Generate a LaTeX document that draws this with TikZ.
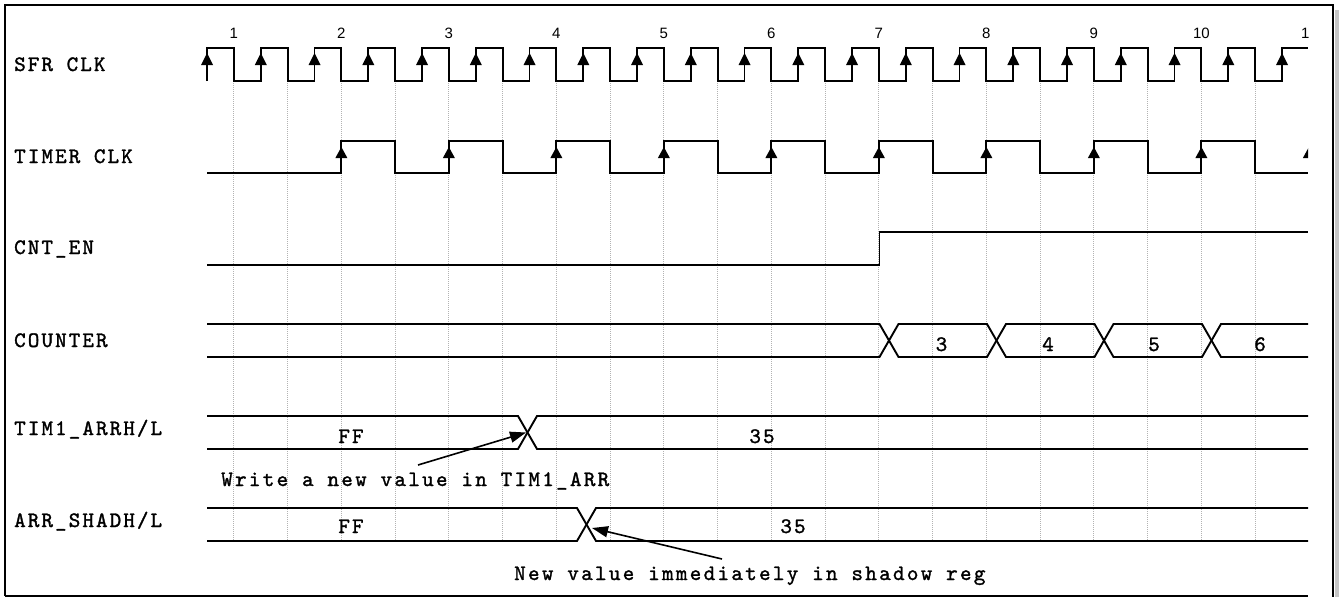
\documentclass[tikz,border=0pt]{standalone}
\usepackage{fontspec}
\newfontfamily\sigfont[LetterSpace=9.5,FakeBold=1.4]{lmmono10-regular.otf}
\newfontfamily\notefont[LetterSpace=10.5,FakeBold=1.4]{lmmono10-regular.otf}
\newfontfamily\numfont{Liberation Sans}
\usetikzlibrary{arrows.meta}
\begin{document}
\begin{tikzpicture}[x=1pt,y=-1pt,
  sig/.style={line width=1.9pt, line join=miter},
  gridl/.style={gray!60, line width=1pt, dash pattern=on 1pt off 1pt},
  lab/.style={anchor=base west, inner sep=0pt, font={\sigfont\fontsize{22}{22}\selectfont}},
  val/.style={anchor=base, inner sep=0pt, font={\sigfont\fontsize{22}{22}\selectfont}},
  note/.style={anchor=base west, inner sep=0pt, font={\notefont\fontsize{22}{22}\selectfont}},
  numlab/.style={inner sep=0pt, font={\numfont\fontsize{15}{15}\selectfont}},
  risearrow/.style={fill=black},
  callout/.style={line width=1.6pt, -{Triangle[length=16pt,width=11pt]}},
  framel/.style={line width=1.8pt}]
\useasboundingbox (0,0) rectangle (1339,597);
\fill[white] (0,0) rectangle (1339,597);

% grid
\foreach \k in {0,...,19}
  \draw[gridl] ({233.875+\k*53.75},81) -- ({233.875+\k*53.75},541);

% frame
\draw[framel] (5,596) -- (5,5) -- (1333,5) -- (1333,597);
\draw[framel] (5,596) -- (1308,596);
\fill[gray!45] (1335,10) rectangle (1339,597);

% labels
\node[lab] (lsfr) at (14,71) {SFR CLK};
\node[lab] (ltim) at (14,163) {TIMER CLK};
\node[lab] (lcnt) at (14,254) {CNT\_EN};
\node[lab] (lctr) at (14,347) {COUNTER};
\node[lab] (larr) at (14,435) {TIM1\_ARRH/L};
\node[lab] (lsh) at (14,527) {ARR\_SHADH/L};

% SFR CLK
\draw[sig] (207,81) foreach \k in {0,...,19} {
  -- ({207+\k*53.75},48) -- ({233.875+\k*53.75},48)
  -- ({233.875+\k*53.75},81) -- ({260.75+\k*53.75},81) }
  -- (1282,48) -- (1308,48);
\foreach \k in {0,...,20}
  \fill[risearrow] ({207+\k*53.75},53) -- ++(-6,12) -- ++(12,0) -- cycle;

% TIMER CLK
\draw[sig] (207,173) foreach \j in {0,...,8} {
  -- ({341.375+\j*107.5},173) -- ({341.375+\j*107.5},141)
  -- ({395.125+\j*107.5},141) -- ({395.125+\j*107.5},173) }
  -- (1308,173);

\begin{scope}
\clip (0,0) rectangle (1308,597);
\foreach \j in {0,...,9}
  \fill[risearrow] ({341.375+\j*107.5},147) -- ++(-6,11) -- ++(12,0) -- cycle;
\foreach \n in {1,...,11}
  \node[numlab] (num\n) at ({233.875+(\n-1)*107.5},33) {\n};
\end{scope}

% CNT_EN
\draw[sig] (207,265) -- (879.5,265) -- (879.5,232) -- (1308,232);

% COUNTER
\draw[sig] (207,324) -- (879.5,324) -- (898.5,357) -- (987,357) -- (1006,324)
  -- (1094.5,324) -- (1113.5,357) -- (1202,357) -- (1221,324) -- (1308,324);
\draw[sig] (207,357) -- (879.5,357) -- (898.5,324) -- (987,324) -- (1006,357)
  -- (1094.5,357) -- (1113.5,324) -- (1202,324) -- (1221,357) -- (1308,357);
\node[val] (c3) at (941.5,351) {3};
\node[val] (c4) at (1048,351) {4};
\node[val] (c5) at (1154,351) {5};
\node[val] (c6) at (1260,351) {6};

% TIM1_ARRH/L
\draw[sig] (207,416) -- (518,416) -- (537,449) -- (1308,449);
\draw[sig] (207,449) -- (518,449) -- (537,416) -- (1308,416);
\node[val] (v1) at (351,443) {FF};
\node[val] (v2) at (762,443) {35};

% ARR_SHADH/L
\draw[sig] (207,508) -- (577,508) -- (596,541) -- (1308,541);
\draw[sig] (207,541) -- (577,541) -- (596,508) -- (1308,508);
\node[val] (v3) at (351,533) {FF};
\node[val] (v4) at (793,533) {35};

% notes
\node[note] (n1) at (221,486) {Write a new value in TIM1\_ARR};
\node[note] (n2) at (514,580) {New value immediately in shadow reg};
\coordinate (w1) at (418,465);
\coordinate (x1) at (526,432.5);
\coordinate (w2) at (722,559);
\coordinate (x2) at (592,528);
\draw[callout] (w1) -- (x1);
\draw[callout] (w2) -- (x2);
\end{tikzpicture}
\end{document}
